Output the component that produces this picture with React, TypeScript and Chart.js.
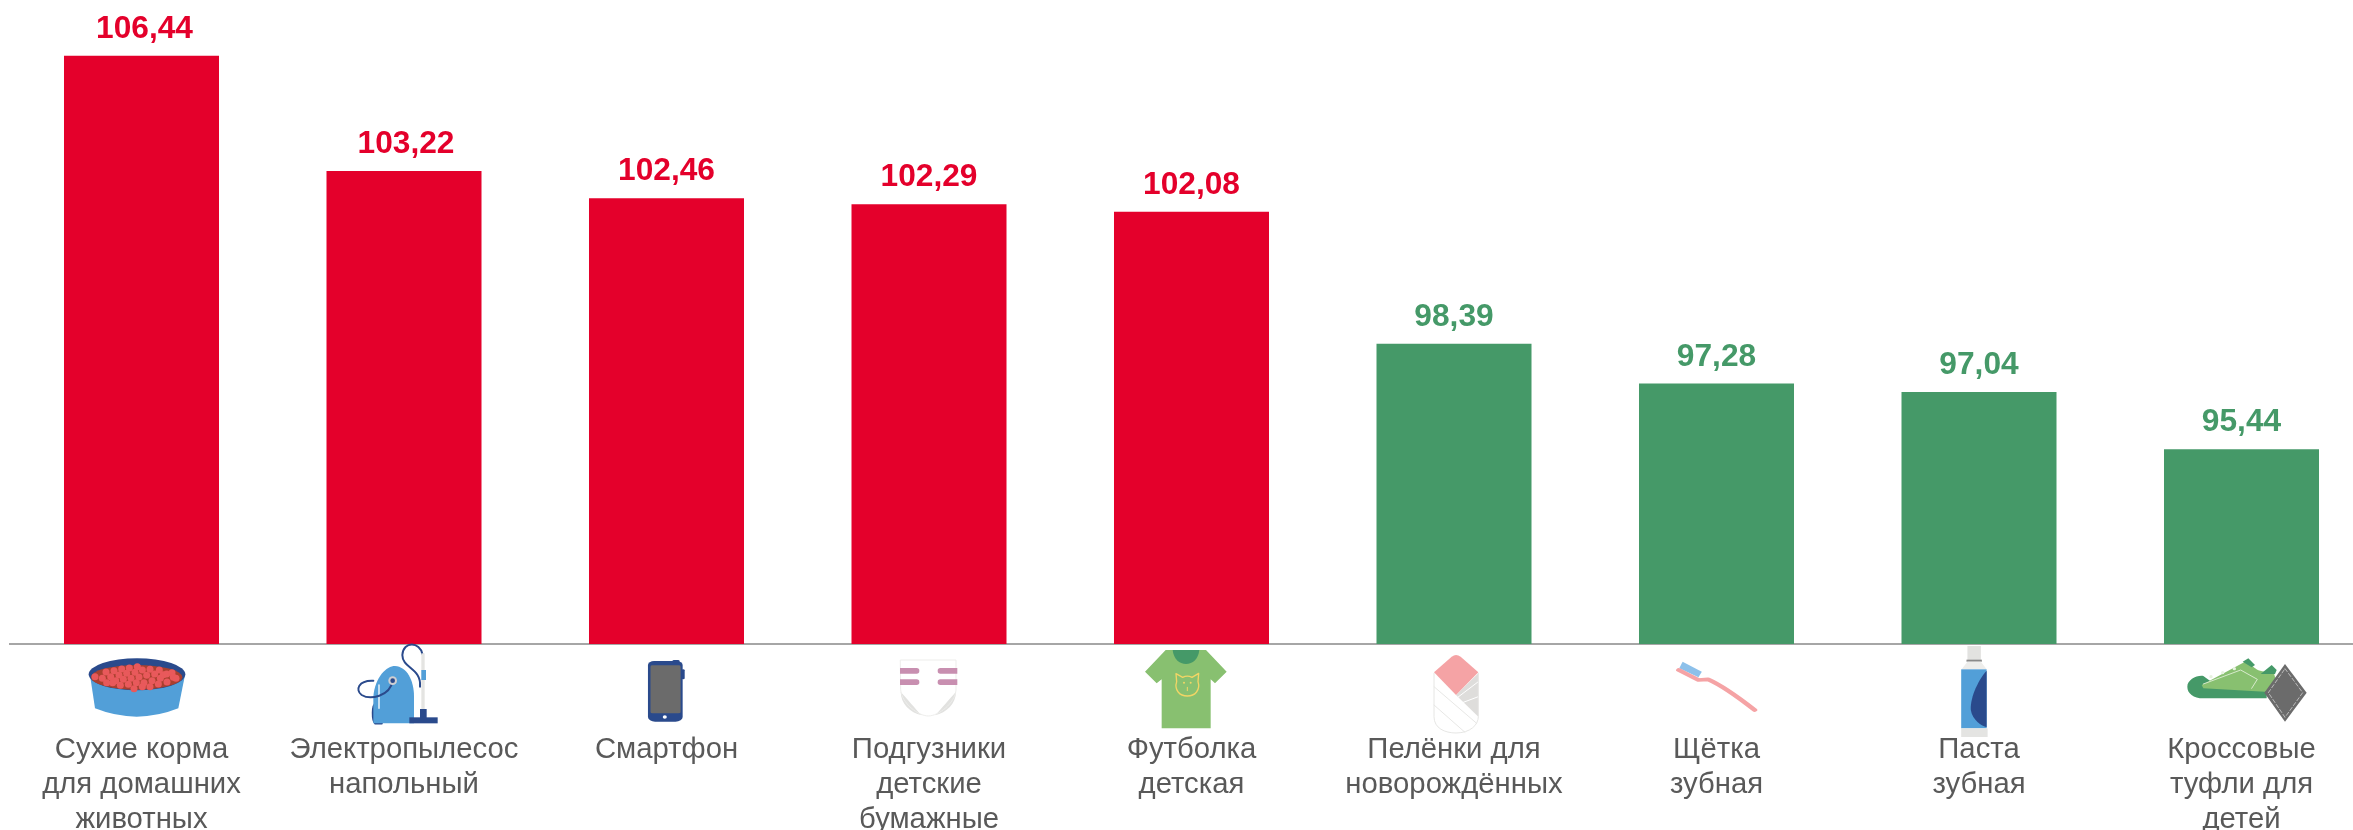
import React, { useEffect, useRef } from "react";
import { Chart, registerables } from "chart.js";

Chart.register(...registerables);

const categories: string[][] = [
  ["Сухие корма", "для домашних", "животных"],
  ["Электропылесос", "напольный"],
  ["Смартфон"],
  ["Подгузники", "детские", "бумажные"],
  ["Футболка", "детская"],
  ["Пелёнки для", "новорождённых"],
  ["Щётка", "зубная"],
  ["Паста", "зубная"],
  ["Кроссовые", "туфли для", "детей"],
];
const values: number[] = [106.44, 103.22, 102.46, 102.29, 102.08, 98.39, 97.28, 97.04, 95.44];
const valueLabels: string[] = ["106,44", "103,22", "102,46", "102,29", "102,08", "98,39", "97,28", "97,04", "95,44"];

const RED = "#E4002B";
const GREEN = "#459968";
const LIGHT_GREEN = "#88C070";
const BLUE = "#529FD8";
const NAVY = "#2A4A8C";
const PINK = "#F5A3A5";
const PALE = "#E2E2E0";
const GRAY = "#6B6B6B";
const colorOf = (v: number) => (v > 100 ? RED : GREEN);
const labelNudge = [3, 2, 0, 0, 0, 0, 0, 0, 0];

type Ctx = CanvasRenderingContext2D;
const fillP = (c: Ctx, d: string, color: string) => { c.fillStyle = color; c.fill(new Path2D(d)); };
const strokeP = (c: Ctx, d: string, color: string, w: number) => {
  c.strokeStyle = color; c.lineWidth = w; c.lineCap = "round"; c.lineJoin = "round"; c.stroke(new Path2D(d));
};
const circle = (c: Ctx, x: number, y: number, r: number, color: string) => {
  c.fillStyle = color; c.beginPath(); c.arc(x, y, r, 0, Math.PI * 2); c.fill();
};

const kibble: number[][] = [
  [75,110],[97,115],[108,96],[122,110],[132,92],[137,122],[147,105],[155,87],[160,118],[170,100],[178,84],[183,115],
  [195,97],[202,80],[207,111],[217,90],[222,128],[230,106],[240,88],[246,122],[254,102],[268,90],[271,115],[265,132],
  [280,104],[290,102],[291,126],[306,98],[310,112],[318,115],[151,136],[175,133],[199,128],[217,140],[240,140],[192,146],[128,128],[110,128],
];

const bowl = (c: Ctx) => {
  fillP(c, "M60 105 L75 205 Q200 255 325 205 L345 105 Z", BLUE);
  c.fillStyle = NAVY; c.beginPath(); c.ellipse(201, 103, 145, 48, 0, 0, Math.PI * 2); c.fill();
  c.save();
  c.beginPath(); c.ellipse(200, 112, 137, 37, 0, 0, Math.PI * 2); c.clip();
  c.fillStyle = "#A9402F"; c.fillRect(50, 60, 300, 100);
  c.restore();
  kibble.forEach(([x, y]) => circle(c, x, y, 10.5, "#E8595B"));
};

const vacuum = (c: Ctx) => {
  strokeP(c, "M108 190 C96 195 96 240 106 250 L125 250", NAVY, 7);
  fillP(c, "M100 250 L100 170 C105 110 140 78 165 78 C200 80 222 120 222 170 L222 250 Z", BLUE);
  strokeP(c, "M117 135 L117 205", "#FFFFFF", 4);
  strokeP(c, "M158 122 C150 170 90 180 65 165 C45 150 55 120 100 122", NAVY, 6);
  strokeP(c, "M247 42 C240 5 190 2 187 45 C187 85 245 85 240 140", NAVY, 6);
  c.fillStyle = "#E4E4E2"; c.fillRect(244, 40, 10, 170);
  c.fillStyle = BLUE; c.fillRect(244, 90, 14, 30);
  c.fillStyle = NAVY; c.fillRect(208, 232, 85, 18); c.fillRect(240, 207, 20, 30);
  circle(c, 158, 122, 13, "#CFCFD2");
  circle(c, 158, 122, 7, NAVY);
};

const phone = (c: Ctx) => {
  c.fillStyle = NAVY;
  c.beginPath(); c.roundRect(1270, 123, 68, 182, [12, 12, 14, 14]); c.fill();
  c.beginPath(); c.roundRect(1318, 120, 14, 8, 3); c.fill();
  c.beginPath(); c.roundRect(1336, 148, 6, 30, 3); c.fill();
  c.fillStyle = GRAY; c.beginPath(); c.roundRect(1275, 136, 59, 144, 4); c.fill();
  c.fillStyle = "#FFFFFF"; c.beginPath(); c.ellipse(1303, 291, 4, 5, 0, 0, Math.PI * 2); c.fill();
};

const diaper = (c: Ctx) => {
  fillP(c, "M62 60 L228 60 L228 150 C225 190 175 228 145 228 C115 228 65 190 62 150 Z", "#FFFFFF");
  fillP(c, "M62 155 C80 175 105 205 125 226 C90 218 62 190 62 155 Z", PALE);
  fillP(c, "M228 155 C210 175 185 205 165 226 C200 218 228 190 228 155 Z", PALE);
  strokeP(c, "M62 60 L228 60 L228 150 C225 190 175 228 145 228 C115 228 65 190 62 150 Z", "#EDEDEB", 3);
  c.fillStyle = "#C88FB0";
  c.beginPath(); c.roundRect(60, 84, 58, 17, [0, 8, 8, 0]); c.fill();
  c.beginPath(); c.roundRect(60, 118, 58, 17, [0, 8, 8, 0]); c.fill();
  c.beginPath(); c.roundRect(173, 84, 59, 17, [8, 0, 0, 8]); c.fill();
  c.beginPath(); c.roundRect(173, 118, 59, 17, [8, 0, 0, 8]); c.fill();
};

const shirt = (c: Ctx) => {
  fillP(c, "M107 30 L228 30 L290 95 L255 130 L242 118 L242 265 L95 265 L95 118 L80 130 L45 95 Z", LIGHT_GREEN);
  fillP(c, "M128 30 L208 30 C205 58 188 72 168 72 C148 72 131 58 128 30 Z", GREEN);
  const y = "#F2D565";
  strokeP(c, "M140 125 L138 101 L158 112 C166 108 178 108 186 112 L206 100 L204 125 C212 150 195 168 172 168 C149 168 132 150 140 125 Z", y, 4);
  circle(c, 162, 128, 3, y);
  circle(c, 182, 128, 3, y);
  strokeP(c, "M172 142 L172 152", y, 3);
};

const swaddle = (c: Ctx) => {
  fillP(c, "M42 85 L42 215 C42 250 75 264 108 264 C150 264 175 240 175 215 L175 85 Z", "#FFFFFF");
  fillP(c, "M175 85 L108 150 L175 215 Z", "#DEDDDB");
  strokeP(c, "M112 158 L175 110", "#FFFFFF", 3);
  strokeP(c, "M130 172 L175 155", "#FFFFFF", 3);
  strokeP(c, "M42 125 L170 235", PALE, 2.5);
  strokeP(c, "M42 180 L135 262", PALE, 2.5);
  strokeP(c, "M42 85 L42 215 C42 250 75 264 108 264 C150 264 175 240 175 215 L175 85", "#E6E6E4", 3);
  fillP(c, "M42 82 L95 35 Q108 25 122 35 L175 82 L108 150 Z", PINK);
};

const brush = (c: Ctx) => {
  fillP(c, "M172 125 L212 155 L205 172 L165 145 Z", "#8CC0EA");
  strokeP(c, "M164 150 L205 180 L225 178 Q260 200 322 270", PINK, 11);
};

const paste = (c: Ctx) => {
  c.fillStyle = "#E2E2E0"; c.fillRect(765, 78, 28, 45);
  c.fillStyle = "#8A8A8A"; c.fillRect(763, 119, 32, 6);
  fillP(c, "M765 125 L793 125 L805 148 L753 148 Z", "#EDEDEB");
  c.fillStyle = BLUE; c.fillRect(752, 148, 53, 177);
  fillP(c, "M805 152 C790 175 770 230 772 270 C775 300 795 318 805 322 Z", NAVY);
  c.fillStyle = "#E4E4E2"; c.fillRect(752, 325, 55, 26);
};

const shoe = (c: Ctx) => {
  fillP(c, "M52 110 C52 90 80 75 100 78 L130 100 L290 120 L290 145 L100 145 C70 145 52 130 52 110 Z", GREEN);
  fillP(c, "M95 105 L225 35 L250 50 C260 60 280 70 310 62 L320 100 L285 125 L100 115 Z", LIGHT_GREEN);
  fillP(c, "M218 35 L235 25 L255 45 L245 52 Z", GREEN);
  fillP(c, "M272 72 L305 45 L320 60 L315 72 Z", GREEN);
  strokeP(c, "M100 102 L212 60 L262 88 L245 115", "#E7F2DF", 2.5);
  [[123, 80], [158, 68], [193, 56]].forEach(([x, y]) => circle(c, x, y, 5, "#E7F2DF"));
  fillP(c, "M345 42 L410 128 L345 215 L283 128 Z", GRAY);
  c.save();
  c.setLineDash([11, 7]);
  strokeP(c, "M345 56 L398 128 L345 202 L295 128 Z", "#E4E4E4", 2);
  c.restore();
};

// each icon: drawing routine, source frame offset from its category centre, top, and x/y scale
const icons: [(c: Ctx) => void, number, number, number, number][] = [
  [bowl, -71.5, 640, 1 / 3, 1 / 3],
  [vacuum, -64, 640, 1 / 3, 1 / 3],
  [phone, -666.5, 620, 1 / 1.96, 1 / 3],
  [diaper, -49, 640, 1 / 3, 1 / 3],
  [shirt, -61.5, 640, 1 / 3, 1 / 3],
  [swaddle, -34, 645, 1 / 3, 1 / 3],
  [brush, -116.5, 620, 1 / 2.082, 1 / 3],
  [paste, -379, 620, 1 / 2.082, 1 / 3],
  [shoe, -71.5, 650, 1 / 3, 1 / 3],
];

const decorations = {
  id: "decorations",
  afterDatasetsDraw(chart: any) {
    const c: Ctx = chart.ctx;
    const bars = chart.getDatasetMeta(0).data;
    c.save();
    c.font = 'bold 31.7px "Liberation Sans"';
    c.textAlign = "center";
    c.textBaseline = "alphabetic";
    bars.forEach((bar: any, i: number) => {
      c.fillStyle = colorOf(values[i]);
      c.fillText(valueLabels[i], bar.x + labelNudge[i], bar.y - 18);
    });
    c.restore();
  },
  afterDraw(chart: any) {
    const c: Ctx = chart.ctx;
    const xs = chart.scales.x;
    icons.forEach(([draw, dx, top, sx, sy], i) => {
      c.save();
      c.translate(xs.getPixelForTick(i) + dx, top);
      c.scale(sx, sy);
      draw(c);
      c.restore();
    });
  },
};

export default function App() {
  const ref = useRef<HTMLCanvasElement>(null);
  useEffect(() => {
    const chart = new Chart(ref.current!, {
      type: "bar",
      data: {
        labels: categories,
        datasets: [{
          data: values,
          backgroundColor: values.map(colorOf),
          barPercentage: 0.5905,
          categoryPercentage: 1,
        }],
      },
      options: {
        responsive: false,
        animation: false,
        layout: { autoPadding: false, padding: { left: 10.25, right: 0.25, top: 0, bottom: 0 } },
        plugins: { legend: { display: false }, tooltip: { enabled: false }, title: { display: false } },
        scales: {
          x: {
            grid: { display: false, drawTicks: false },
            border: { color: "#A6A6A6", width: 2 },
            afterFit: (s: any) => { s.height = 186; s.paddingLeft = 0; s.paddingRight = 0; },
            ticks: {
              autoSkip: false,
              maxRotation: 0,
              minRotation: 0,
              padding: 89,
              color: "#595959",
              font: { family: '"Liberation Sans"', size: 29.3, lineHeight: 1.18 },
            },
          },
          y: { display: false, min: 90, max: 108 },
        },
      },
      plugins: [decorations],
    });
    return () => chart.destroy();
  }, []);
  return (
    <div style={{ position: "fixed", left: 0, top: 0, width: 2353, height: 830, overflow: "hidden", background: "#fff" }}>
      <canvas ref={ref} width={2373} height={830} style={{ display: "block" }} />
    </div>
  );
}
